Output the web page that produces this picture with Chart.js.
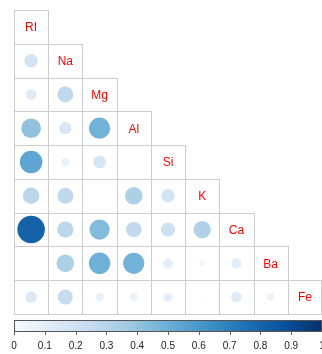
<!DOCTYPE html>
<html>
<head>
<meta charset="utf-8">
<script src="https://cdn.jsdelivr.net/npm/chart.js@4/dist/chart.umd.min.js"></script>
<style>
  html, body { margin: 0; padding: 0; background: #fff; }
  #wrap { width: 322px; height: 354px; position: relative; }
</style>
</head>
<body>
<div id="wrap"><canvas id="corr"></canvas></div>
<script>
// variable names (diagonal)
const VARS = ['RI', 'Na', 'Mg', 'Al', 'Si', 'K', 'Ca', 'Ba', 'Fe'];

// lower triangle, row by row (values against the earlier variables)
const ROW_NA = [-0.19];
const ROW_MG = [-0.12, -0.27];
const ROW_AL = [-0.41, 0.16, -0.48];
const ROW_SI = [-0.54, -0.07, -0.17, -0.005];
const ROW_K  = [-0.29, -0.27, 0.005, 0.33, -0.19];
const ROW_CA = [0.81, -0.28, -0.44, -0.26, -0.21, -0.32];
const ROW_BA = [-0.0004, 0.33, -0.49, 0.48, -0.10, -0.04, -0.11];
const ROW_FE = [0.14, -0.24, 0.08, -0.07, -0.09, -0.01, 0.12, -0.06];

const LOWER = [[], ROW_NA, ROW_MG, ROW_AL, ROW_SI, ROW_K, ROW_CA, ROW_BA, ROW_FE];

// colour bar ticks
const CB_TICKS = [0, 0.1, 0.2, 0.3, 0.4, 0.5, 0.6, 0.7, 0.8, 0.9, 1];

const BLUES = ['#F7FBFF', '#DEEBF7', '#C6DBEF', '#9ECAE1', '#6BAED6',
               '#4292C6', '#2171B5', '#08519C', '#08306B'];

function hexToRgb(h) {
  return [1, 3, 5].map(i => parseInt(h.slice(i, i + 2), 16));
}

function blueFor(v) {
  const t = Math.min(1, Math.max(0, Math.abs(v))) * (BLUES.length - 1);
  const i = Math.min(Math.floor(t), BLUES.length - 2);
  const f = t - i;
  const a = hexToRgb(BLUES[i]), b = hexToRgb(BLUES[i + 1]);
  const c = a.map((x, k) => Math.round(x + (b[k] - x) * f));
  return `rgb(${c[0]},${c[1]},${c[2]})`;
}

const points = [];
LOWER.forEach((row, i) => {
  row.forEach((v, j) => points.push({ x: j, y: i, v }));
});

// cell borders + diagonal names, colour bar
const gridPlugin = {
  id: 'corrGrid',
  beforeDatasetsDraw(chart) {
    const { ctx, scales: { x, y } } = chart;
    ctx.save();
    ctx.strokeStyle = '#cccccc';
    ctx.lineWidth = 1;
    for (let i = 0; i < VARS.length; i++) {
      for (let j = 0; j <= i; j++) {
        const x0 = Math.round(x.getPixelForValue(j - 0.5)) + 0.5;
        const x1 = Math.min(Math.round(x.getPixelForValue(j + 0.5)) + 0.5, chart.width - 0.5);
        const y0 = Math.round(y.getPixelForValue(i - 0.5)) + 0.5;
        const y1 = Math.round(y.getPixelForValue(i + 0.5)) + 0.5;
        ctx.strokeRect(x0, y0, x1 - x0, y1 - y0);
      }
    }
    ctx.fillStyle = '#ff0000';
    ctx.font = '12px "Liberation Sans", Arial, sans-serif';
    ctx.textAlign = 'center';
    ctx.textBaseline = 'middle';
    VARS.forEach((name, i) => {
      ctx.fillText(name, x.getPixelForValue(i), y.getPixelForValue(i) + 1);
    });
    ctx.restore();
  },
  afterDraw(chart) {
    const { ctx, chartArea, scales: { cb } } = chart;
    const xl = cb.getPixelForValue(0);
    const xr = cb.getPixelForValue(1);
    const top = chartArea.bottom + 6;
    const h = 12;
    ctx.save();
    const g = ctx.createLinearGradient(xl, 0, xr, 0);
    BLUES.forEach((c, k) => g.addColorStop(k / (BLUES.length - 1), c));
    ctx.fillStyle = g;
    ctx.fillRect(xl, top, xr - xl, h);
    ctx.strokeStyle = '#555';
    ctx.lineWidth = 1;
    ctx.strokeRect(Math.round(xl) + 0.5, top + 0.5, Math.round(xr - xl) - 1, h - 1);
    ctx.strokeStyle = '#666';
    CB_TICKS.forEach(t => {
      const px = Math.round(cb.getPixelForValue(t)) + 0.5;
      ctx.beginPath();
      ctx.moveTo(px, top + h);
      ctx.lineTo(px, top + h + 3);
      ctx.stroke();
    });
    ctx.restore();
  }
};

new Chart(document.getElementById('corr'), {
  type: 'bubble',
  data: {
    datasets: [{
      data: points,
      backgroundColor: c => blueFor(c.raw ? c.raw.v : 0),
      borderWidth: 0,
      radius: c => {
        const area = c.chart.chartArea;
        const cell = area ? (area.right - area.left) / VARS.length : 34;
        return c.raw ? Math.sqrt(Math.abs(c.raw.v)) * cell * 0.45 : 0;
      },
      hoverRadius: 0,
    }],
  },
  options: {
    responsive: true,
    maintainAspectRatio: false,
    animation: false,
    events: [],
    layout: { autoPadding: false, padding: { top: 10, left: 14, right: 0, bottom: 0 } },
    plugins: { legend: { display: false }, tooltip: { enabled: false } },
    scales: {
      x: { type: 'linear', display: false, min: -0.5, max: 8.5 },
      y: { type: 'linear', display: false, min: -0.5, max: 8.5, reverse: true },
      cb: {
        type: 'linear',
        position: 'bottom',
        min: 0,
        max: 1,
        afterBuildTicks: s => { s.ticks = CB_TICKS.map(v => ({ value: v })); },
        afterFit: s => { s.paddingLeft = 0; s.paddingRight = 0; },
        grid: { display: true, drawOnChartArea: false, drawTicks: true, tickLength: 24, color: 'rgba(0,0,0,0)' },
        border: { display: false },
        ticks: {
          autoSkip: false,
          maxRotation: 0,
          padding: 2,
          color: '#222',
          font: { size: 10, family: '"Liberation Sans", Arial, sans-serif' },
          callback: v => String(+v.toFixed(1)),
        },
      },
    },
  },
  plugins: [gridPlugin],
});
</script>
</body>
</html>
